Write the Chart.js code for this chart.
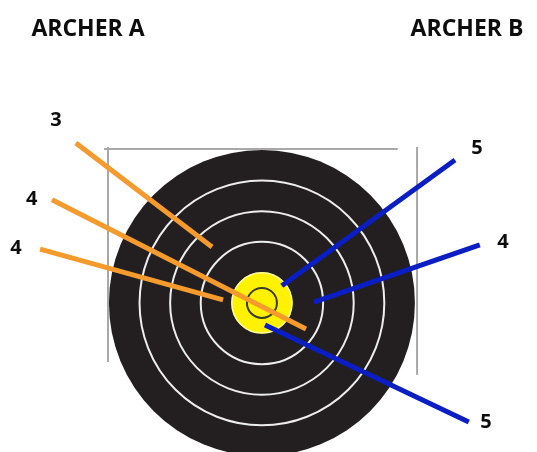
<!DOCTYPE html>
<html>
<head>
<meta charset="utf-8">
<script src="https://cdn.jsdelivr.net/npm/chart.js@4/dist/chart.umd.min.js"></script>
<style>
  html, body { margin: 0; padding: 0; background: #ffffff; }
  #wrap { width: 537px; height: 452px; position: relative; }
</style>
</head>
<body>
<div id="wrap"><canvas id="c"></canvas></div>
<script>
// ---- Data (target units: 1 unit = one ring width, origin = target centre) ----
const archers = ["ARCHER A", "ARCHER B"];
const ringRadii = [1, 2, 3, 4, 5];          // yellow, rings..., outer edge
const innerRingRadius = 0.49;
const scoresA = [3, 4, 4];
const scoresB = [5, 4, 5];
// arrow tails (shaft start, outside target) and tips (impact points)
const tailsA = [{x: -6.08, y: 5.23}, {x: -6.86, y: 3.37}, {x: -7.25, y: 1.76}];
const tipsA  = [{x: -1.63, y: 1.83}, {x: 1.44, y: -0.85}, {x: -1.27, y: 0.10}];
const tailsB = [{x: 6.31, y: 4.67}, {x: 7.12, y: 1.90}, {x: 6.76, y: -3.89}];
const tipsB  = [{x: 0.65, y: 0.56}, {x: 1.70, y: 0.03}, {x: 0.10, y: -0.72}];
// score label anchors
const labelsA = [{x: -6.73, y: 5.98}, {x: -7.52, y: 3.40}, {x: -8.04, y: 1.80}];
const labelsB = [{x: 7.03, y: 5.07}, {x: 7.88, y: 1.99}, {x: 7.32, y: -3.89}];
// stand frame
const frameTop   = [{x: -5.16, y: 5.03}, {x: 4.44, y: 5.03}];
const frameLeft  = [{x: -5.03, y: 5.10}, {x: -5.03, y: -1.93}];
const frameRight = [{x: 5.07, y: 5.10}, {x: 5.07, y: -2.35}];

const ORANGE = "#F59A2C";
const BLUE = "#0A1EC4";

const datasets = [];
tailsA.forEach((t, i) => datasets.push({
  data: [t, tipsA[i]], showLine: true, borderColor: ORANGE, borderWidth: 5,
  pointRadius: 0, borderCapStyle: "butt", score: scoresA[i], label: labelsA[i]
}));
tailsB.forEach((t, i) => datasets.push({
  data: [t, tipsB[i]], showLine: true, borderColor: BLUE, borderWidth: 5,
  pointRadius: 0, borderCapStyle: "butt", score: scoresB[i], label: labelsB[i]
}));

const targetPlugin = {
  id: "target",
  beforeDatasetsDraw(chart) {
    const ctx = chart.ctx, xs = chart.scales.x, ys = chart.scales.y;
    const px = v => xs.getPixelForValue(v), py = v => ys.getPixelForValue(v);
    const unit = Math.abs(px(1) - px(0));
    ctx.save();
    // frame
    ctx.strokeStyle = "#A8A8A8"; ctx.lineWidth = 2;
    [frameTop, frameLeft, frameRight].forEach(seg => {
      ctx.beginPath();
      ctx.moveTo(px(seg[0].x), py(seg[0].y));
      ctx.lineTo(px(seg[1].x), py(seg[1].y));
      ctx.stroke();
    });
    const cx = px(0), cy = py(0);
    const outer = ringRadii[ringRadii.length - 1];
    // black face
    ctx.fillStyle = "#231F20";
    ctx.beginPath(); ctx.arc(cx, cy, outer * unit, 0, Math.PI * 2); ctx.fill();
    // white rings
    ctx.strokeStyle = "#EDEDED"; ctx.lineWidth = 2;
    ringRadii.slice(1, -1).forEach(r => {
      ctx.beginPath(); ctx.arc(cx, cy, r * unit, 0, Math.PI * 2); ctx.stroke();
    });
    // yellow centre
    ctx.fillStyle = "#FFF200";
    ctx.beginPath(); ctx.arc(cx, cy, ringRadii[0] * unit, 0, Math.PI * 2); ctx.fill();
    ctx.strokeStyle = "#FFF9A0"; ctx.lineWidth = 1.5;
    ctx.beginPath(); ctx.arc(cx, cy, ringRadii[0] * unit - 0.5, 0, Math.PI * 2); ctx.stroke();
    // inner ring
    ctx.strokeStyle = "#3A3A22"; ctx.lineWidth = 2;
    ctx.beginPath(); ctx.arc(cx, cy, innerRingRadius * unit, 0, Math.PI * 2); ctx.stroke();
    ctx.restore();
  },
  afterDatasetsDraw(chart) {
    const ctx = chart.ctx, xs = chart.scales.x, ys = chart.scales.y;
    ctx.save();
    ctx.fillStyle = "#0D0D0D";
    ctx.textAlign = "center"; ctx.textBaseline = "middle";
    ctx.font = "bold 20px 'Open Sans'";
    chart.data.datasets.forEach(ds => {
      ctx.fillText(String(ds.score), xs.getPixelForValue(ds.label.x), ys.getPixelForValue(ds.label.y));
    });
    ctx.font = "bold 23px 'Open Sans'";
    ctx.textBaseline = "alphabetic";
    ctx.fillText(archers[0], 88, 36);
    ctx.fillText(archers[1], 467, 36);
    ctx.restore();
  }
};

new Chart(document.getElementById("c"), {
  type: "scatter",
  data: { datasets },
  options: {
    responsive: true, maintainAspectRatio: false, animation: false,
    layout: { padding: 0 },
    plugins: { legend: { display: false }, tooltip: { enabled: false }, title: { display: false } },
    scales: {
      x: { type: "linear", min: -8.56, max: 8.99, display: false },
      y: { type: "linear", min: -4.87, max: 9.90, display: false }
    }
  },
  plugins: [targetPlugin]
});
</script>
</body>
</html>
